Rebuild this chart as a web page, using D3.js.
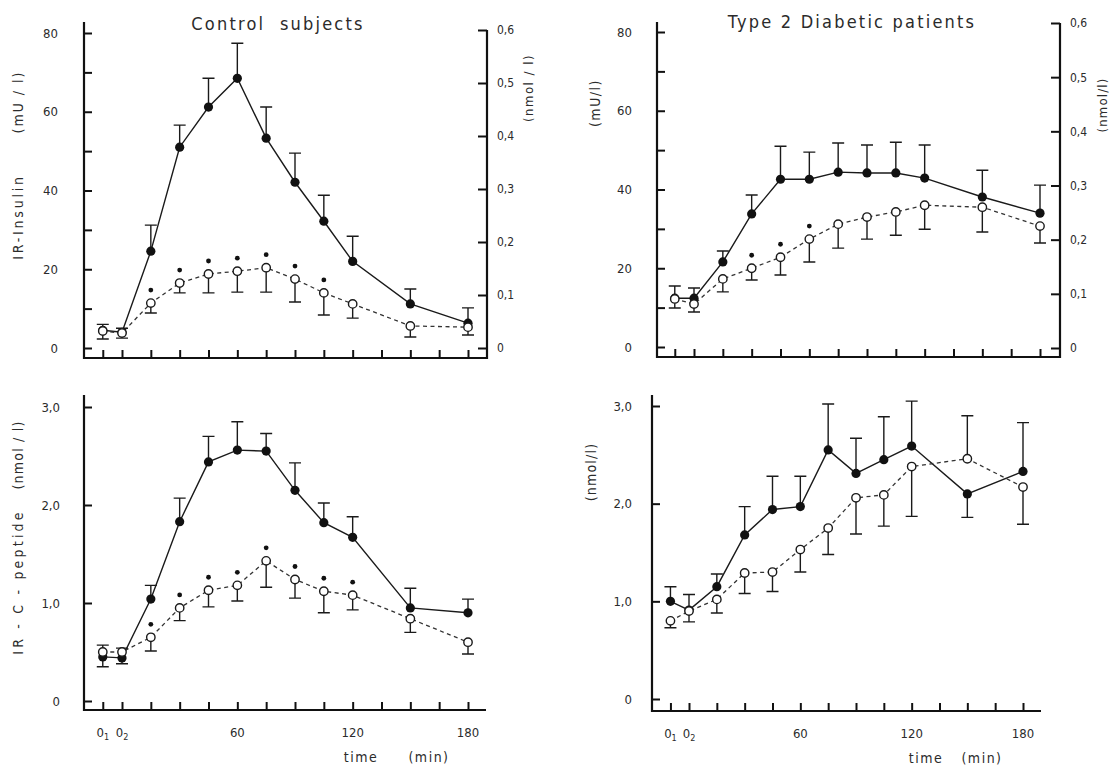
<!DOCTYPE html>
<html>
<head>
<meta charset="utf-8">
<script src="https://cdn.jsdelivr.net/npm/d3@7"></script>
<style>
  body { margin: 0; background: #fff; }
  text { font-family: "DejaVu Sans Condensed", "Liberation Sans Narrow", sans-serif; fill: #2b2b2b; }
</style>
</head>
<body>
<svg id="chart" width="1111" height="768"></svg>
<script>
// time points in minutes, the first basal sample (0₁) sits at -10
let times = [-10, 0, 15, 30, 45, 60, 75, 90, 105, 120, 150, 180]
let xTicks = [-10, 0, 15, 30, 45, 60, 75, 90, 105, 120, 135, 150, 165, 180]
let xTickLabels = [
  { t: -10, main: '0', sub: '1' },
  { t: 0, main: '0', sub: '2' },
  { t: 60, main: '60' },
  { t: 120, main: '120' },
  { t: 180, main: '180' }
]
let insulinTicks = [0, 10, 20, 30, 40, 50, 60, 70, 80]
let insulinLabels = [0, 20, 40, 60, 80]
let nmolTicks = [0, 0.1, 0.2, 0.3, 0.4, 0.5, 0.6]
let peptideTicks = [0, 1, 2, 3]

// control subjects, IR-insulin (mU/l)
let ctrlInsFilled = [4.5, 4, 24.6, 51, 61.2, 68.5, 53.3, 42.1, 32.2, 22, 11.2, 6.3]
let ctrlInsFilledErr = [1.5, 1, 6.6, 5.6, 7.3, 8.9, 7.9, 7.4, 6.6, 6.4, 3.8, 3.9]
let ctrlInsOpen = [4.3, 3.8, 11.4, 16.5, 18.8, 19.5, 20.4, 17.5, 14, 11.2, 5.6, 5.3]
let ctrlInsOpenErr = [2, 1.3, 2.5, 2.5, 4.8, 5.3, 6.2, 5.8, 5.6, 3.6, 2.8, 2]
let ctrlInsSig = [0, 0, 1, 1, 1, 1, 1, 1, 1, 0, 0, 0]

// control subjects, IR-C-peptide (nmol/l)
let ctrlPepFilled = [0.45, 0.44, 1.04, 1.83, 2.44, 2.56, 2.55, 2.15, 1.82, 1.67, 0.95, 0.9]
let ctrlPepFilledErr = [0.12, 0.1, 0.14, 0.24, 0.26, 0.29, 0.18, 0.28, 0.2, 0.21, 0.2, 0.14]
let ctrlPepOpen = [0.5, 0.5, 0.65, 0.95, 1.13, 1.18, 1.43, 1.24, 1.12, 1.08, 0.84, 0.6]
let ctrlPepOpenErr = [0.15, 0.12, 0.14, 0.13, 0.17, 0.16, 0.27, 0.19, 0.22, 0.15, 0.14, 0.12]
let ctrlPepSig = [0, 0, 1, 1, 1, 1, 1, 1, 1, 1, 0, 0]

// type 2 diabetic patients, insulin (mU/l)
let diabInsFilled = [12.4, 12.4, 21.6, 33.8, 42.6, 42.6, 44.4, 44.2, 44.2, 42.9, 38.1, 34]
let diabInsFilledErr = [3.1, 2.6, 2.8, 4.8, 8.4, 6.9, 7.4, 7.1, 7.8, 8.4, 6.8, 7.1]
let diabInsOpen = [12.2, 10.9, 17.3, 20, 22.8, 27.4, 31.2, 33, 34.3, 36, 35.5, 30.7]
let diabInsOpenErr = [2.3, 2, 3.3, 3, 4.5, 5.8, 6.1, 5.6, 5.9, 6.1, 6.3, 4.3]
let diabInsSig = [0, 0, 0, 1, 1, 1, 0, 0, 0, 0, 0, 0]

// type 2 diabetic patients, C-peptide (nmol/l)
let diabPepFilled = [1.0, 0.91, 1.15, 1.68, 1.94, 1.97, 2.55, 2.31, 2.45, 2.59, 2.1, 2.33]
let diabPepFilledErr = [0.15, 0.16, 0.13, 0.29, 0.34, 0.31, 0.47, 0.36, 0.44, 0.46, 0.24, 0.5]
let diabPepFilledDir = [1, 1, 1, 1, 1, 1, 1, 1, 1, 1, -1, 1]
let diabPepOpen = [0.8, 0.9, 1.02, 1.29, 1.3, 1.53, 1.75, 2.06, 2.09, 2.38, 2.46, 2.17]
let diabPepOpenErr = [0.07, 0.11, 0.14, 0.21, 0.2, 0.23, 0.27, 0.37, 0.32, 0.51, 0.44, 0.38]
let diabPepOpenDir = [-1, -1, -1, -1, -1, -1, -1, -1, -1, -1, 1, -1]
let noSig = times.map(() => 0)

let comma = d => d === 0 ? '0' : d3.format('.1f')(d).replace('.', ',')
let plain = d => String(d)

let svg = d3.select('#chart')
svg.append('rect').attr('width', 1111).attr('height', 768).attr('fill', '#fff')
let line = d3.line().x(d => d.x).y(d => d.y)

function series (vals, errs, dirs) {
  return times.map((t, i) => ({ t: t, v: vals[i], e: errs[i], dir: dirs ? dirs[i] : 1 }))
}

let panels = [
  {
    left: 84, right: 487, top: 22, base: 358, xRange: [122, 468],
    yDomain: [0, 80], yRange: [348, 33], yTicks: insulinTicks, yLabels: insulinLabels, fmt: plain, gap: 26,
    right2: { domain: [0, 0.6], range: [348, 30], ticks: nmolTicks },
    filled: series(ctrlInsFilled, ctrlInsFilledErr), open: series(ctrlInsOpen, ctrlInsOpenErr, times.map(() => -1)),
    sig: ctrlInsSig, xLabels: false
  },
  {
    left: 84, right: 485, top: 395, base: 710, xRange: [122, 468],
    yDomain: [0, 3], yRange: [701, 407], yTicks: peptideTicks, yLabels: peptideTicks, fmt: comma, gap: 24,
    filled: series(ctrlPepFilled, ctrlPepFilledErr), open: series(ctrlPepOpen, ctrlPepOpenErr, times.map(() => -1)),
    sig: ctrlPepSig, xLabels: true
  },
  {
    left: 657, right: 1060, top: 22, base: 357, xRange: [694, 1040],
    yDomain: [0, 80], yRange: [347, 32], yTicks: insulinTicks, yLabels: insulinLabels, fmt: plain, gap: 25,
    right2: { domain: [0, 0.6], range: [348, 23], ticks: nmolTicks },
    filled: series(diabInsFilled, diabInsFilledErr), open: series(diabInsOpen, diabInsOpenErr, times.map(() => -1)),
    sig: diabInsSig, xLabels: false
  },
  {
    left: 652, right: 1040, top: 395, base: 711, xRange: [689, 1023],
    yDomain: [0, 3], yRange: [699, 406], yTicks: peptideTicks, yLabels: peptideTicks, fmt: comma, gap: 20,
    filled: series(diabPepFilled, diabPepFilledErr, diabPepFilledDir), open: series(diabPepOpen, diabPepOpenErr, diabPepOpenDir),
    sig: noSig, xLabels: true
  }
]

function styleTicks (sel, size) {
  sel.select('.domain').remove()
  sel.selectAll('.tick line').attr('stroke', '#111').attr('stroke-width', 2)
  sel.attr('font-size', size || 13).attr('font-family', null)
}

function drawPanel (p) {
  let g = svg.append('g')
  let x = d3.scaleLinear().domain([0, 180]).range(p.xRange)
  let y = d3.scaleLinear().domain(p.yDomain).range(p.yRange)

  // axis lines
  g.append('line').attr('x1', p.left).attr('x2', p.left).attr('y1', p.top).attr('y2', p.base + 1)
    .attr('stroke', '#111').attr('stroke-width', 2.2)
  g.append('line').attr('x1', p.left - 1).attr('x2', p.right + 1).attr('y1', p.base).attr('y2', p.base)
    .attr('stroke', '#111').attr('stroke-width', 2.2)

  g.append('g').attr('transform', `translate(0,${p.base})`)
    .call(d3.axisBottom(x).tickValues(xTicks).tickSize(-8).tickFormat(''))
    .call(styleTicks)

  g.append('g').attr('transform', `translate(${p.left},0)`)
    .call(d3.axisLeft(y).tickValues(p.yTicks).tickSize(-8).tickPadding(p.gap)
      .tickFormat(d => p.yLabels.includes(d) ? p.fmt(d) : ''))
    .call(styleTicks)

  if (p.right2) {
    let y2 = d3.scaleLinear().domain(p.right2.domain).range(p.right2.range)
    g.append('line').attr('x1', p.right).attr('x2', p.right).attr('y1', p.right2.range[1]).attr('y2', p.base + 1)
      .attr('stroke', '#111').attr('stroke-width', 2.2)
    g.append('g').attr('transform', `translate(${p.right},0)`)
      .call(d3.axisRight(y2).tickValues(p.right2.ticks).tickSize(-9).tickPadding(10).tickFormat(comma))
      .call(styleTicks, 12)
  }

  if (p.xLabels) {
    let lab = g.append('g').attr('font-size', 13)
    xTickLabels.forEach(d => {
      let tx = lab.append('text').attr('x', x(d.t)).attr('y', p.base + 27).attr('text-anchor', 'middle')
      tx.append('tspan').text(d.main)
      if (d.sub) tx.append('tspan').attr('font-size', 9).attr('dy', 3).text(d.sub)
    })
  }

  // connecting lines
  let pts = s => s.map(d => ({ x: x(d.t), y: y(d.v) }))
  g.append('path').attr('d', line(pts(p.filled))).attr('fill', 'none')
    .attr('stroke', '#1a1a1a').attr('stroke-width', 1.4)
  g.append('path').attr('d', line(pts(p.open))).attr('fill', 'none')
    .attr('stroke', '#333').attr('stroke-width', 1.3).attr('stroke-dasharray', '4,3.5')

  // error bars
  let bars = p.filled.concat(p.open)
  g.selectAll('.err').data(bars).enter().append('path')
    .attr('class', 'err')
    .attr('d', d => {
      let cx = x(d.t), y1 = y(d.v), y2 = y(d.v + d.dir * d.e)
      return `M${cx},${y1}V${y2}M${cx - 6},${y2}H${cx + 6}`
    })
    .attr('fill', 'none').attr('stroke', '#1a1a1a').attr('stroke-width', 1.4)

  // significance dots
  g.selectAll('.sig').data(p.open.filter((d, i) => p.sig[i])).enter().append('circle')
    .attr('class', 'sig')
    .attr('cx', d => x(d.t)).attr('cy', d => y(d.v) - 13).attr('r', 2.4).attr('fill', '#111')

  g.selectAll('.dotF').data(p.filled).enter().append('circle')
    .attr('class', 'dotF')
    .attr('cx', d => x(d.t)).attr('cy', d => y(d.v)).attr('r', 4.6).attr('fill', '#111')
  g.selectAll('.dotO').data(p.open).enter().append('circle')
    .attr('class', 'dotO')
    .attr('cx', d => x(d.t)).attr('cy', d => y(d.v)).attr('r', 4.2)
    .attr('fill', '#fff').attr('stroke', '#1a1a1a').attr('stroke-width', 1.4)
}

panels.forEach(drawPanel)

// titles and axis titles
function label (txt, x, y, opts) {
  let t = svg.append('text').attr('x', x).attr('y', y)
    .attr('text-anchor', 'middle')
    .attr('font-size', opts.size || 14)
    .attr('letter-spacing', opts.spacing || 1)
    .style('white-space', 'pre')
    .text(txt)
  if (opts.rotate) t.attr('transform', `rotate(-90,${x},${y})`)
  return t
}
label('Control  subjects', 278, 30, { size: 18, spacing: 2.2 })
label('Type 2 Diabetic patients', 852, 28, { size: 18, spacing: 2.2 })

label('IR-Insulin', 23, 217, { rotate: true, spacing: 2.8 })
label('(mU / l)', 23, 102, { rotate: true, spacing: 2 })
label('(nmol / l)', 533, 88, { rotate: true, size: 13, spacing: 1.5 })
label('(mU/l)', 600, 103, { rotate: true, spacing: 1.5 })
label('(nmol/l)', 1107, 105, { rotate: true, size: 13, spacing: 1.2 })
label('IR - C - peptide', 23, 582, { rotate: true, spacing: 3.2 })
label('(nmol / l)', 23, 455, { rotate: true, spacing: 1.2 })
label('(nmol/l)', 596, 472, { rotate: true, spacing: 1.2 })

label('time', 361, 762, { size: 14, spacing: 1.5 })
label('(min)', 429, 762, { size: 14, spacing: 1.5 })
label('time', 926, 763, { size: 14, spacing: 1.5 })
label('(min)', 982, 763, { size: 14, spacing: 1.5 })
</script>
</body>
</html>
